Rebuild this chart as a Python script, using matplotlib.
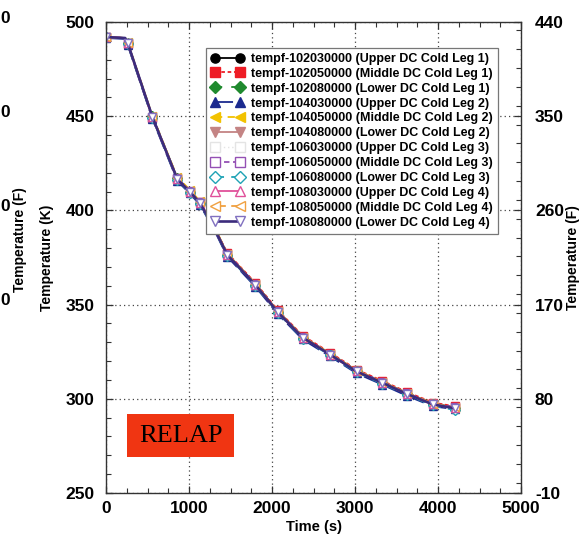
import matplotlib
matplotlib.use("Agg")
import matplotlib.pyplot as plt
import matplotlib.transforms as mtransforms
from matplotlib.patches import Rectangle
from matplotlib.ticker import MultipleLocator

# RELAP downcomer cold-leg temperatures
time_s = [0, 230, 260, 560, 860, 1010, 1130, 1300, 1460, 1800, 2070,
          2370, 2700, 3020, 3330, 3630, 3940, 4200]

t_102030000 = [492, 491.5, 489, 449.5, 417, 410.5, 404, 391, 377, 361, 346.5,
               333, 324, 315, 309, 303, 297.5, 295.5]
t_102050000 = [492, 491.5, 488.5, 449, 416.5, 410, 404.5, 391.5, 377.5, 361.5, 347,
               333.5, 324.5, 315.5, 309.5, 303.5, 298, 296]
t_102080000 = [492, 491.5, 489, 450, 417, 410, 404, 391, 376.5, 360.5, 346,
               332.5, 323.5, 314.5, 308.5, 302.5, 297, 295]
t_104030000 = [491.5, 491, 488, 448.5, 415.5, 409, 403, 390, 375.5, 359.5, 345,
               331.5, 322.5, 313.5, 307.5, 301.5, 296, 294.5]
t_104050000 = [492, 491.5, 489.5, 450, 417.5, 411, 405, 392, 377, 361, 346.5,
               333, 324, 315, 309, 303, 297.5, 295]
t_104080000 = [492, 491.5, 489, 449.5, 416.5, 410, 404, 391, 376.5, 360.5, 346,
               332.5, 323.5, 314.5, 308.5, 302.5, 297, 295]
t_106030000 = [492, 491.5, 489, 449.5, 416.5, 410, 404, 391, 376.5, 360.5, 346,
               332.5, 323.5, 314.5, 308.5, 302.5, 297, 295]
t_106050000 = [492, 491.5, 489, 449.5, 417, 410.5, 404.5, 391.5, 377, 361, 346.5,
               333, 324, 315, 309, 303, 297.5, 295.5]
t_106080000 = [492, 491.5, 488.5, 449, 416, 409.5, 403.5, 390.5, 376, 360, 345.5,
               332, 323, 314, 308, 302, 296.5, 294]
t_108030000 = [492, 491.5, 489, 449.5, 416.5, 410, 404, 391, 376.5, 360.5, 346,
               332.5, 323.5, 314.5, 308.5, 302.5, 297, 295]
t_108050000 = [492, 491.5, 489, 450, 417, 410.5, 404.5, 391.5, 377, 361, 346.5,
               333, 324, 315, 309, 303, 297.5, 295.5]
t_108080000 = [492, 491.5, 489, 449.5, 416.5, 410, 404, 391, 376.5, 360.5, 346,
               332.5, 323.5, 314.5, 308.5, 302.5, 297, 295]

labels = [
    "tempf-102030000 (Upper DC Cold Leg 1)",
    "tempf-102050000 (Middle DC Cold Leg 1)",
    "tempf-102080000 (Lower DC Cold Leg 1)",
    "tempf-104030000 (Upper DC Cold Leg 2)",
    "tempf-104050000 (Middle DC Cold Leg 2)",
    "tempf-104080000 (Lower DC Cold Leg 2)",
    "tempf-106030000 (Upper DC Cold Leg 3)",
    "tempf-106050000 (Middle DC Cold Leg 3)",
    "tempf-106080000 (Lower DC Cold Leg 3)",
    "tempf-108030000 (Upper DC Cold Leg 4)",
    "tempf-108050000 (Middle DC Cold Leg 4)",
    "tempf-108080000 (Lower DC Cold Leg 4)",
]
series = [t_102030000, t_102050000, t_102080000, t_104030000,
          t_104050000, t_104080000, t_106030000, t_106050000,
          t_106080000, t_108030000, t_108050000, t_108080000]

k_ticks = [250, 300, 350, 400, 450, 500]
f_ticks = [-10, 80, 170, 260, 350, 440]
x_ticks = [0, 1000, 2000, 3000, 4000, 5000]

# (color, line style, marker, filled, edge color, line width)
styles = [
    ("black", "-", "o", True, "black", 1.3),
    ("#ee1c25", (0, (2, 1.5)), "s", True, "#ee1c25", 1.3),
    ("#1f8a2e", (0, (4, 5)), "D", True, "#1f8a2e", 1.3),
    ("#1b2a8f", (0, (10, 3)), "^", True, "#1b2a8f", 1.3),
    ("#f2c200", (0, (4, 3)), "<", True, "#f2c200", 1.3),
    ("#c48484", "-", "v", True, "#c48484", 1.3),
    ("#e4e4e4", (0, (1, 2)), "s", False, "#e4e4e4", 1.0),
    ("#9450b4", (0, (3, 2)), "s", False, "#9450b4", 1.3),
    ("#1fa3b5", (0, (5, 4)), "D", False, "#1fa3b5", 1.3),
    ("#e0509a", "-", "^", False, "#e0509a", 1.3),
    ("#f0a040", (0, (6, 3)), "<", False, "#f0a040", 1.3),
    ("#3c2c7c", "-", "v", False, "#8070c0", 1.9),
]

plt.rcParams["font.family"] = ["Liberation Sans", "DejaVu Sans"]
plt.rcParams["font.weight"] = "bold"
plt.rcParams["axes.unicode_minus"] = False

fig = plt.figure(figsize=(5.85, 5.4), dpi=100)
ax = fig.add_axes([106 / 585, 47 / 540, 415 / 585, 471 / 540])

mark_idx = [i for i in range(len(time_s)) if time_s[i] not in (230, 1300)]
for temps, lab, (c, ls, m, filled, ec, lw) in zip(series, labels, styles):
    ax.plot(time_s, temps, color=c, linestyle=ls, linewidth=lw,
            marker=m, markersize=5.5, markevery=mark_idx,
            markerfacecolor=c if filled else "white",
            markeredgecolor=ec, markeredgewidth=1.0, label=lab)

ax.set_xlim(0, 5000)
ax.set_ylim(250, 500)
ax.set_xticks(x_ticks)
ax.set_yticks(k_ticks)
ax.xaxis.set_minor_locator(MultipleLocator(250))
ax.yaxis.set_minor_locator(MultipleLocator(10))
ax.tick_params(which="both", direction="in", top=True, right=False,
               labelsize=12.5, color="#333333")
ax.tick_params(which="major", length=5, width=0.9)
ax.tick_params(which="minor", length=3.5, width=0.8)
ax.tick_params(axis="x", pad=6)
ax.tick_params(axis="y", pad=8)
ax.grid(True, which="major", linestyle=(0, (1, 2.5)), color="#444444", linewidth=0.9)
for sp in ax.spines.values():
    sp.set_color("#333333")
    sp.set_linewidth(1.0)

ax.set_xlabel("Time (s)", fontsize=10.5, fontweight="bold")
ax.xaxis.set_label_coords(0.5, -0.058)
ax.set_ylabel("Temperature (K)", fontsize=10, fontweight="bold")
ax.yaxis.set_label_coords(-0.125, 0.5)

ax2 = ax.twinx()
ax2.set_ylim(-10, 440)
ax2.set_yticks(f_ticks)
ax2.yaxis.set_minor_locator(MultipleLocator(18))
ax2.tick_params(which="both", direction="in", labelsize=12.5, color="#333333", pad=10)
ax2.tick_params(which="major", length=5, width=0.9)
ax2.tick_params(which="minor", length=3.5, width=0.8)
ax2.set_ylabel("Temperature (F)", fontsize=10, fontweight="bold")
ax2.yaxis.set_label_coords(1.108, 0.5)
for sp in ax2.spines.values():
    sp.set_visible(False)

leg = ax.legend(loc="upper left", bbox_to_anchor=(0.241, 0.945),
                numpoints=2, handlelength=2.6, handletextpad=0.6,
                labelspacing=0.23, borderpad=0.4, borderaxespad=0,
                markerscale=1.2, fancybox=False, framealpha=1,
                edgecolor="#777777", prop={"weight": "bold", "size": 9})
leg.get_frame().set_linewidth(0.9)

# RELAP tag
ax.add_patch(Rectangle((0.051, 0.077), 0.257, 0.091, transform=ax.transAxes,
                       facecolor="#f03512", edgecolor="none", zorder=5))
ax.text(0.18, 0.122, "RELAP", transform=ax.transAxes, ha="center", va="center",
        fontsize=19, fontweight="normal", family=["Liberation Serif", "DejaVu Serif"],
        color="black", zorder=6)

# visible remains of a neighbouring panel's Fahrenheit axis at the left edge
blend = mtransforms.blended_transform_factory(fig.transFigure, ax.transData)
for k_val in [500, 450, 400, 350]:
    fig.text(0.5 / 585, k_val + 2, "0", transform=blend, ha="left", va="center",
             fontsize=12.5, fontweight="bold")
fig.text(20 / 585, 1 - 240 / 540, "Temperature (F)", rotation=90, ha="center",
         va="center", fontsize=10, fontweight="bold")

fig.savefig("out.png", dpi=100)
